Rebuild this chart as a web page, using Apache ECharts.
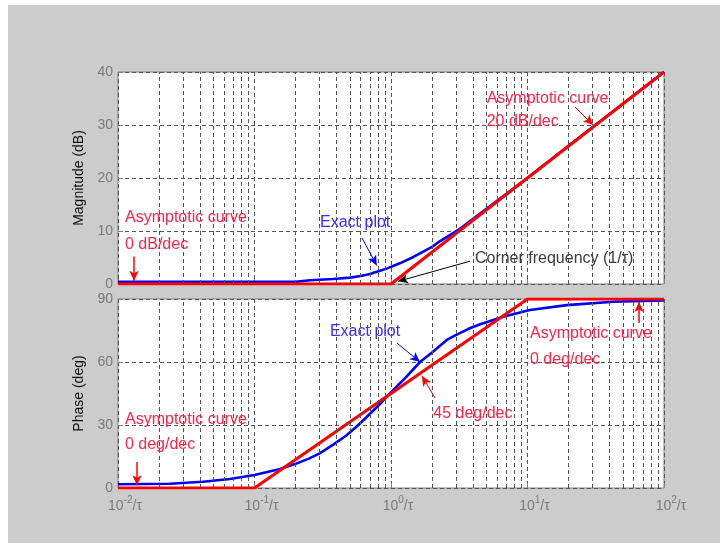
<!DOCTYPE html>
<html>
<head>
<meta charset="utf-8">
<script src="https://cdn.jsdelivr.net/npm/echarts@6/dist/echarts.min.js"></script>
<style>
  html, body { margin: 0; padding: 0; background: #ffffff; }
  #frame { position: absolute; left: 8px; top: 5px; width: 712px; height: 538px; background: #cccccc; }
  #chart { position: absolute; left: 0; top: 0; width: 720px; height: 543px; }
</style>
</head>
<body>
<div id="frame"></div>
<div id="chart"></div>
<script>
// Bode plot of a first-order zero, frequency normalised to ωτ.

// Magnitude: straight-line asymptote and exact response
const asymMagFreq = [0.01, 1, 100];
const asymMagDb   = [0, 0, 40];
const exactMagFreq = [0.01, 0.1, 0.2, 0.255, 0.377, 0.5, 0.6, 0.7, 0.83, 0.93, 1.16, 1.46, 2.0, 2.29, 3.2, 5, 9.87, 20, 50, 100];
const exactMagDb   = [0.4, 0.4, 0.4, 0.7, 0.95, 1.2, 1.5, 1.9, 2.5, 2.9, 3.9, 5.1, 7.0, 8.1, 10.4, 14.2, 19.9, 26.1, 34.0, 40.0];

// Phase: straight-line asymptote and exact response
const asymPhaseFreq = [0.01, 0.1, 10, 100];
const asymPhaseDeg  = [0, 0, 90, 90];
const exactPhaseFreq = [0.01, 0.024, 0.042, 0.066, 0.1, 0.154, 0.2, 0.25, 0.3, 0.38, 0.47, 0.55, 0.63, 0.83, 0.93, 1.3, 1.63, 2.0, 2.56, 3.03, 3.7, 4.5, 6.65, 10.4, 19.4, 42.5, 100];
const exactPhaseDeg  = [1.8, 2.0, 3.0, 4.3, 6.2, 9.0, 11.5, 14.0, 16.5, 20.8, 25.0, 28.8, 32.4, 40.0, 43.5, 53.0, 60.0, 64.5, 70.5, 73.0, 75.8, 78.0, 81.6, 84.8, 87.1, 88.7, 89.3];

// Axis ticks
const decadeExponents = ['-2', '-1', '0', '1', '2'];
const minorMultipliers = [2, 3, 4, 5, 6, 7, 8, 9];
const magTicks = { min: 0, max: 40, step: 10 };
const phaseTicks = { min: 0, max: 90, step: 30 };

const FONT = '"Liberation Sans", Arial, sans-serif';
const RED = '#ff0000';
const BLUE = '#0000ff';
const RED_TEXT = '#ff2448';
const BLUE_TEXT = '#3a2cff';
const DARK_TEXT = '#3a3a4a';
const TICK_TEXT = '#7a7a7a';
const GRID_LINE = { color: '#555555', width: 1, type: [4, 3] };

const pairs = (xs, ys) => xs.map((x, i) => [x, ys[i]]);

// vertical dashed lines at 2..9 of each decade
const minorLines = [];
for (let e = -2; e < 2; e++) {
  minorMultipliers.forEach(k => minorLines.push({ xAxis: k * Math.pow(10, e) }));
}

const note = (coord, text, color) => ({ coord, value: 0, label: { formatter: text, color } });
const arrow = (from, to, color, width) => [
  { coord: from, symbol: 'none', lineStyle: { color, width, type: 'solid' } },
  { coord: to, symbol: 'arrow', symbolSize: [7, 10] }
];

const noteStyle = {
  symbol: 'circle', symbolSize: 0, silent: true,
  label: { show: true, position: 'right', distance: 0, fontSize: 16, fontFamily: FONT }
};

function xAxisFor(gridIndex, withLabels) {
  return {
    type: 'log', logBase: 10, min: 0.01, max: 100, gridIndex,
    axisLine: { show: false },
    axisTick: { show: true, inside: true, length: 5, lineStyle: { color: '#808080' } },
    splitLine: { show: true, lineStyle: GRID_LINE },
    axisLabel: withLabels ? {
      show: true, margin: 7,
      formatter: (v, i) => `{sp| }{b|10}{s|${decadeExponents[i]}}{b|/τ}`,
      rich: {
        sp: { width: 14 },
        b: { fontSize: 14, fontFamily: FONT, color: TICK_TEXT, verticalAlign: 'bottom', lineHeight: 18 },
        s: { fontSize: 10, fontFamily: FONT, color: TICK_TEXT, verticalAlign: 'top', lineHeight: 18 }
      }
    } : { show: false }
  };
}

function yAxisFor(gridIndex, ticks, title) {
  return {
    type: 'value', gridIndex, min: ticks.min, max: ticks.max, interval: ticks.step,
    name: title, nameLocation: 'middle', nameRotate: 90, nameGap: 31,
    nameTextStyle: { color: '#111111', fontSize: 14, fontFamily: FONT },
    axisLine: { show: false },
    axisTick: { show: true, inside: true, length: 5, lineStyle: { color: '#808080' } },
    axisLabel: { color: TICK_TEXT, fontSize: 14, fontFamily: FONT, margin: 5 },
    splitLine: { show: true, lineStyle: GRID_LINE }
  };
}

const option = {
  animation: false,
  backgroundColor: 'transparent',
  grid: [
    { left: 118, top: 72, width: 546, height: 212, show: true, backgroundColor: '#ffffff', borderColor: '#7f7f7f', borderWidth: 1 },
    { left: 118, top: 299, width: 546, height: 189, show: true, backgroundColor: '#ffffff', borderColor: '#7f7f7f', borderWidth: 1 }
  ],
  xAxis: [xAxisFor(0, false), xAxisFor(1, true)],
  yAxis: [yAxisFor(0, magTicks, 'Magnitude (dB)'), yAxisFor(1, phaseTicks, 'Phase (deg)')],
  series: [
    // minor grid, magnitude panel
    {
      type: 'line', xAxisIndex: 0, yAxisIndex: 0, z: 1, silent: true,
      data: pairs(asymMagFreq, asymMagDb), showSymbol: false, lineStyle: { opacity: 0 },
      markLine: { silent: true, symbol: 'none', label: { show: false }, lineStyle: GRID_LINE, data: minorLines }
    },
    // minor grid, phase panel
    {
      type: 'line', xAxisIndex: 1, yAxisIndex: 1, z: 1, silent: true,
      data: pairs(asymPhaseFreq, asymPhaseDeg), showSymbol: false, lineStyle: { opacity: 0 },
      markLine: { silent: true, symbol: 'none', label: { show: false }, lineStyle: GRID_LINE, data: minorLines }
    },
    {
      name: 'Exact magnitude', type: 'line', xAxisIndex: 0, yAxisIndex: 0, z: 3,
      data: pairs(exactMagFreq, exactMagDb), showSymbol: false,
      lineStyle: { color: BLUE, width: 2.6 },
      markPoint: Object.assign({}, noteStyle, {
        data: [
          note([0.302, 11.5], 'Exact plot', BLUE_TEXT),
          note([4.12, 4.7], 'Corner frequency (1/τ)', DARK_TEXT)
        ]
      })
    },
    {
      name: 'Asymptotic magnitude', type: 'line', xAxisIndex: 0, yAxisIndex: 0, z: 4,
      data: pairs(asymMagFreq, asymMagDb), showSymbol: false,
      lineStyle: { color: RED, width: 3 },
      markPoint: Object.assign({}, noteStyle, {
        data: [
          note([0.01125, 12.6], 'Asymptotic curve', RED_TEXT),
          note([0.01125, 7.4], '0 dB/dec', RED_TEXT),
          note([5.02, 35.0], 'Asymptotic curve', RED_TEXT),
          note([5.02, 30.6], '20 dB/dec', RED_TEXT)
        ]
      }),
      markLine: {
        silent: true, label: { show: false },
        data: [
          arrow([0.0131, 5.2], [0.0131, 0.6], RED, 1.5),
          arrow([0.613, 8.7], [0.786, 3.5], BLUE, 1),
          arrow([3.79, 4.3], [1.125, 0.5], '#000000', 1),
          arrow([22.3, 33.4], [30.2, 30.0], RED, 1)
        ]
      }
    },
    {
      name: 'Exact phase', type: 'line', xAxisIndex: 1, yAxisIndex: 1, z: 3,
      data: pairs(exactPhaseFreq, exactPhaseDeg), showSymbol: false,
      lineStyle: { color: BLUE, width: 2.6 },
      markPoint: Object.assign({}, noteStyle, {
        data: [ note([0.357, 74.4], 'Exact plot', BLUE_TEXT) ]
      })
    },
    {
      name: 'Asymptotic phase', type: 'line', xAxisIndex: 1, yAxisIndex: 1, z: 4,
      data: pairs(asymPhaseFreq, asymPhaseDeg), showSymbol: false,
      lineStyle: { color: RED, width: 3 },
      markPoint: Object.assign({}, noteStyle, {
        data: [
          note([2.04, 35.6], '45 deg/dec', RED_TEXT),
          note([10.43, 73.7], 'Asymptotic curve', RED_TEXT),
          note([10.43, 61.3], '0 deg/dec', RED_TEXT),
          note([0.01125, 32.4], 'Asymptotic curve', RED_TEXT),
          note([0.01125, 20.5], '0 deg/dec', RED_TEXT)
        ]
      }),
      markLine: {
        silent: true, label: { show: false },
        data: [
          arrow([1.107, 69.0], [1.63, 60.0], BLUE, 1),
          arrow([2.10, 42.9], [1.687, 53.3], RED, 1),
          arrow([65.6, 78.6], [65.6, 88.6], RED, 1.5),
          arrow([0.01377, 12.4], [0.01377, 1.3], RED, 1.5)
        ]
      }
    }
  ]
};

const chart = echarts.init(document.getElementById('chart'), null, { renderer: 'canvas' });
chart.setOption(option);
</script>
</body>
</html>
